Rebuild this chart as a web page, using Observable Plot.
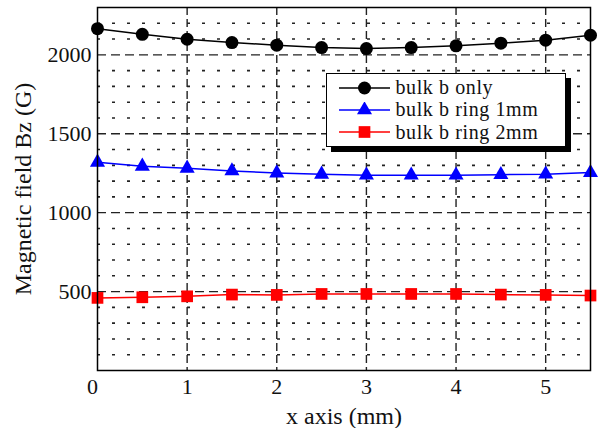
<!DOCTYPE html>
<html>
<head>
<meta charset="utf-8">
<script src="https://cdn.jsdelivr.net/npm/d3@7"></script>
<script src="https://cdn.jsdelivr.net/npm/@observablehq/plot@0.6"></script>
<style>
  body { margin: 0; background: white; }
  #wrap { position: relative; width: 601px; height: 428px; }
  #wrap svg text { font-family: "Liberation Serif", serif; }
  #legend {
    position: absolute; left: 326px; top: 73px; width: 240px; height: 74px;
    border: 1.5px solid black; background: white; box-shadow: 5px 5px 0 black;
    font-family: "Liberation Serif", serif; font-size: 20px; letter-spacing: 0.6px; color: #111;
    box-sizing: border-box; padding-top: 2.5px;
  }
  .row { display: flex; align-items: center; height: 22.3px; white-space: nowrap; }
  .row svg { margin-left: 11.5px; margin-right: 6px; flex: none; }
</style>
</head>
<body>
<div id="wrap"></div>
<script>
const xs = [0, 0.5, 1, 1.5, 2, 2.5, 3, 3.5, 4, 4.5, 5, 5.5];
const bulkOnly = [2166, 2130, 2099, 2078, 2061, 2046, 2040, 2046, 2057, 2074, 2093, 2124];
const ring1mm = [1319, 1294, 1281, 1264, 1251, 1243, 1237, 1237, 1237, 1241, 1244, 1254];
const ring2mm = [460, 464, 470, 481, 479, 485, 485, 485, 485, 481, 479, 475];
const seriesNames = ["bulk b only", "bulk b ring 1mm", "bulk b ring 2mm"];
const seriesColors = ["#000000", "#0000ff", "#ff0000"];
const seriesSymbols = ["circle", "triangle", "square"];
const xTicks = [0, 1, 2, 3, 4, 5];
const yTicks = [500, 1000, 1500, 2000];
const yMinor = d3.range(100, 2300, 100).filter(v => v % 500 !== 0);
const xMajorGrid = [1, 2, 3, 4, 5];
const markerR = [6.5, 5.6, 6.6];

const allSeries = [bulkOnly, ring1mm, ring2mm];
const data = allSeries.flatMap((vals, i) => vals.map((v, j) => ({x: xs[j], y: v, s: seriesNames[i]})));

const axisStyle = {tickSize: 0, fontSize: 22, fontVariant: "normal", tickFormat: d => String(d)};
const marks = [
  Plot.ruleY(yMinor, {stroke: "#222", strokeWidth: 1.6, strokeDasharray: "3,12"}),
  Plot.ruleY(yTicks, {stroke: "#222", strokeWidth: 1.4, strokeDasharray: "9,5"}),
  Plot.ruleX(xMajorGrid, {stroke: "#222", strokeWidth: 1.4, strokeDasharray: "8,4"}),
  Plot.axisX(xTicks.slice(1), {...axisStyle, tickPadding: 8, label: null}),
  Plot.axisX([xTicks[0]], {...axisStyle, tickPadding: 8, dx: -5, label: null}),
  Plot.axisX({ticks: [], tickSize: 0, fontSize: 24, label: "x axis (mm)", labelAnchor: "center", labelArrow: "none", labelOffset: 53}),
  Plot.axisY(yTicks, {...axisStyle, tickPadding: 6, label: null}),
  Plot.axisY({ticks: [], tickSize: 0, fontSize: 24, label: "Magnetic field Bz (G)", labelAnchor: "center", labelArrow: "none", labelOffset: 84})
];
seriesNames.forEach((name, i) => {
  const d = data.filter(p => p.s === name);
  marks.push(Plot.line(d, {x: "x", y: "y", stroke: seriesColors[i], strokeWidth: 1.5}));
  marks.push(Plot.dot(d, {x: "x", y: "y", fill: seriesColors[i], stroke: "none", symbol: seriesSymbols[i], r: markerR[i]}));
});
marks.push(Plot.frame({stroke: "black", strokeWidth: 1.5}));

const chart = Plot.plot({
  width: 601, height: 428,
  marginLeft: 97, marginRight: 11, marginTop: 7, marginBottom: 58,
  x: {domain: [0, 5.5]},
  y: {domain: [0, 2300]},
  style: {fontFamily: "Liberation Serif", fontSize: "22px", color: "#111", background: "white"},
  marks
});
document.getElementById("wrap").appendChild(chart);

const legend = document.createElement("div");
legend.id = "legend";
const d3Symbols = [d3.symbolCircle, d3.symbolTriangle, d3.symbolSquare];
seriesNames.forEach((name, i) => {
  const row = document.createElement("div");
  row.className = "row";
  const sym = d3.symbol(d3Symbols[i], Math.PI * markerR[i] ** 2)();
  row.innerHTML = `<svg width="51" height="16"><line x1="0" x2="51" y1="8" y2="8" stroke="${seriesColors[i]}" stroke-width="1.5"/><path transform="translate(25.5,8)" d="${sym}" fill="${seriesColors[i]}"/></svg><span>${name}</span>`;
  legend.appendChild(row);
});
document.getElementById("wrap").appendChild(legend);
</script>
</body>
</html>
